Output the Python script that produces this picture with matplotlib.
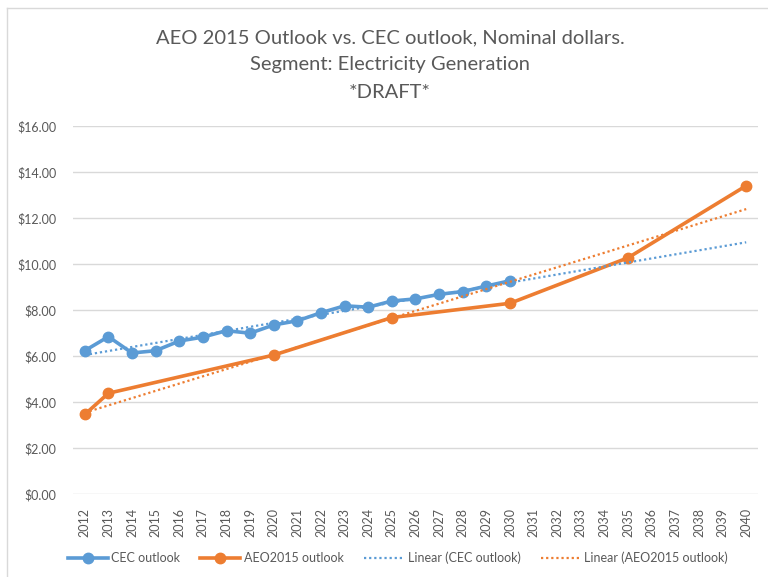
import numpy as np
import matplotlib
matplotlib.use("Agg")
import matplotlib.pyplot as plt
from matplotlib.lines import Line2D

plt.rcParams['font.family'] = ['Lato', 'DejaVu Sans']

years = list(range(2012, 2041))
cec_years = list(range(2012, 2031))
cec = [6.23, 6.84, 6.13, 6.23, 6.65, 6.82, 7.10, 6.99, 7.35, 7.53,
       7.88, 8.18, 8.12, 8.39, 8.48, 8.68, 8.80, 9.04, 9.27]
aeo_years = [2012, 2013, 2020, 2025, 2030, 2035, 2040]
aeo = [3.46, 4.38, 6.04, 7.67, 8.29, 10.27, 13.40]
title_lines = ["AEO 2015 Outlook vs. CEC outlook, Nominal dollars.",
               "Segment: Electricity Generation",
               "*DRAFT*"]

blue = '#5B9BD5'
orange = '#ED7D31'
grey = '#595959'

fig = plt.figure(figsize=(7.68, 5.77), dpi=100)
ax = fig.add_axes([0.095, 0.1438, 0.892, 0.638])

# category positions
pos = {y: i for i, y in enumerate(years)}
cx = np.array([pos[y] for y in cec_years])
ax_ = np.array([pos[y] for y in aeo_years])
allx = np.arange(len(years))

ax.plot(cx, cec, color=blue, lw=2.6, marker='o', ms=7.5, zorder=3)
ax.plot(ax_, aeo, color=orange, lw=2.6, marker='o', ms=7.5, zorder=3)

# linear trendlines (least squares), drawn over the whole category axis
b1 = np.polyfit(cx, cec, 1)
b2 = np.polyfit(ax_, aeo, 1)
ax.plot(allx, np.polyval(b1, allx), color=blue, lw=1.6, ls=(0, (1, 1.3)), zorder=4)
ax.plot(allx, np.polyval(b2, allx), color=orange, lw=1.6, ls=(0, (1, 1.3)), zorder=4)

ax.set_xlim(-0.5, len(years) - 0.5)
ax.set_ylim(0, 16)
ax.set_yticks(np.arange(0, 17, 2))
ax.set_yticklabels(['$%.2f' % v for v in np.arange(0, 17, 2)])
ax.set_xticks(allx)
ax.set_xticklabels([str(y) for y in years], rotation=90)
ax.tick_params(axis='both', length=0, colors=grey, labelsize=9)
ax.tick_params(axis='y', pad=12)
ax.tick_params(axis='x', pad=10)
ax.grid(axis='y', color='#D9D9D9', lw=1)
ax.set_axisbelow(True)
for s in ax.spines.values():
    s.set_visible(False)

for t, yb in zip(title_lines, [0.9255, 0.8787, 0.8302]):
    fig.text(0.508, yb, t, ha='center', va='baseline', fontsize=14.5, color=grey)

handles = [
    Line2D([], [], color=blue, lw=2.6, marker='o', ms=7.5),
    Line2D([], [], color=orange, lw=2.6, marker='o', ms=7.5),
    Line2D([], [], color=blue, lw=1.6, ls=(0, (1, 1.3))),
    Line2D([], [], color=orange, lw=1.6, ls=(0, (1, 1.3))),
]
labels = ['CEC outlook', 'AEO2015 outlook', 'Linear (CEC outlook)', 'Linear (AEO2015 outlook)']
fig.legend(handles, labels, loc='center', bbox_to_anchor=(0.518, 0.033), ncol=4, frameon=False,
           fontsize=9, labelcolor=grey, handlelength=3.2, handletextpad=0.3, columnspacing=1.6)

# chart area border
fig.add_artist(Line2D([7 / 768, 7 / 768], [0, 1 - 8 / 577], color='#D9D9D9', lw=1, transform=fig.transFigure))
fig.add_artist(Line2D([7 / 768, 1], [1 - 8 / 577, 1 - 8 / 577], color='#D9D9D9', lw=1, transform=fig.transFigure))

fig.savefig('out.png', dpi=100)
